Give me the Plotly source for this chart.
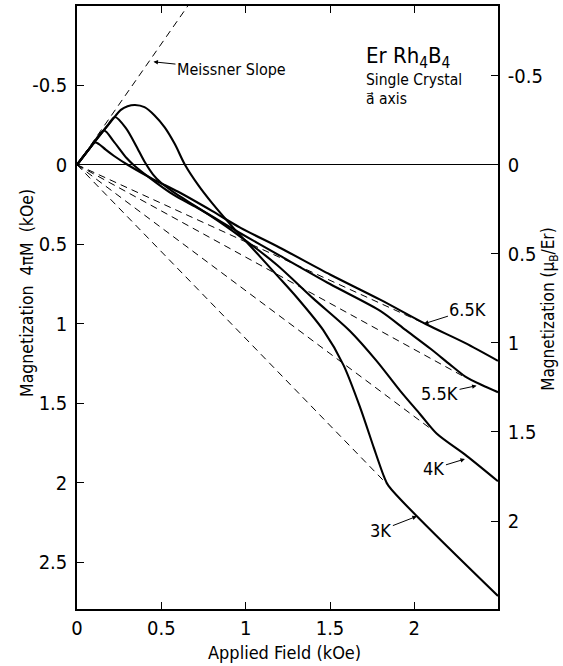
import plotly.graph_objects as go

# Applied field H (kOe) and magnetization 4piM (kOe) for each temperature
field_3K = [0, 0.10, 0.20, 0.26, 0.30, 0.344, 0.40, 0.46, 0.52, 0.58, 0.64, 0.72, 0.80, 0.93,
            1.07, 1.19, 1.30, 1.46, 1.58, 1.68, 1.76, 1.82, 1.846, 2.496]
mag_3K = [0, -0.138, -0.27, -0.345, -0.368, -0.376, -0.362, -0.31, -0.235, -0.13, 0.0, 0.13,
          0.24, 0.40, 0.56, 0.70, 0.83, 1.04, 1.26, 1.53, 1.78, 1.96, 2.017, 2.711]

field_4K = [0, 0.10, 0.18, 0.225, 0.29, 0.35, 0.40, 0.45, 0.50, 0.57, 0.65, 0.79, 0.966,
            1.186, 1.40, 1.618, 1.776, 1.915, 2.033, 2.132, 2.31, 2.496]
mag_4K = [0, -0.138, -0.245, -0.30, -0.23, -0.12, -0.02, 0.06, 0.115, 0.17, 0.225, 0.32,
          0.45, 0.63, 0.84, 1.045, 1.233, 1.42, 1.567, 1.69, 1.83, 1.99]

field_55K = [0, 0.08, 0.16, 0.215, 0.294, 0.334, 0.433, 0.571, 0.729, 0.966, 1.20, 1.50, 1.80,
             1.95, 2.10, 2.21, 2.30, 2.40, 2.496]
mag_55K = [0, -0.11, -0.215, -0.15, -0.042, 0.0, 0.084, 0.188, 0.28, 0.429, 0.57, 0.75, 0.92,
           1.04, 1.16, 1.255, 1.33, 1.385, 1.43]

field_65K = [0, 0.06, 0.107, 0.13, 0.17, 0.22, 0.30, 0.45, 0.60, 0.80, 0.97, 1.20, 1.50, 1.80,
             2.07, 2.30, 2.496]
mag_65K = [0, -0.083, -0.14, -0.13, -0.095, -0.055, 0.0, 0.09, 0.17, 0.29, 0.397, 0.52, 0.69,
           0.85, 1.003, 1.12, 1.233]

# Meissner slope and the straight normal-state lines through the origin
meissner_field = [0, 0.70]
meissner_mag = [0, -1.064]
normal_field = {"3K": [0, 1.846], "4K": [0, 2.11], "5.5K": [0, 2.29], "6.5K": [0, 2.07]}
normal_mag = {"3K": [0, 2.017], "4K": [0, 1.67], "5.5K": [0, 1.33], "6.5K": [0, 1.003]}

# Axis ticks
x_ticks = [0, 0.5, 1, 1.5, 2]
x_ticktext = ["0", "0.5", "1", "1.5", "2"]
y_ticks = [-0.5, 0, 0.5, 1, 1.5, 2, 2.5]
y_ticktext = ["-0.5", "0", "0.5", "1", "1.5", "2", "2.5"]
y2_ticks = [-0.5, 0, 0.5, 1, 1.5, 2]
y2_ticktext = ["-0.5", "0", "0.5", "1", "1.5", "2"]

FONT = "DejaVu Sans Condensed, Liberation Sans Narrow, Arial Narrow, sans-serif"
INK = "black"

fig = go.Figure()

dash_style = dict(color=INK, width=1, dash="7px,5px")
fig.add_trace(go.Scatter(x=meissner_field, y=meissner_mag, mode="lines", line=dash_style,
                         showlegend=False, hoverinfo="skip"))
for key in ["3K", "4K", "5.5K", "6.5K"]:
    fig.add_trace(go.Scatter(x=normal_field[key], y=normal_mag[key], mode="lines",
                             line=dash_style, showlegend=False, hoverinfo="skip"))

curves = [(field_3K, mag_3K, "3K"), (field_4K, mag_4K, "4K"),
          (field_55K, mag_55K, "5.5K"), (field_65K, mag_65K, "6.5K")]
for fx, my, name in curves:
    fig.add_trace(go.Scatter(x=fx, y=my, mode="lines", name=name, showlegend=False,
                             line=dict(color=INK, width=2.1, shape="spline", smoothing=0.8)))

# invisible trace to carry the right-hand axis (mu_B / Er)
fig.add_trace(go.Scatter(x=[0], y=[0], yaxis="y2", mode="markers",
                         marker=dict(opacity=0), showlegend=False, hoverinfo="skip"))

tick_font = dict(family=FONT, size=20, color=INK)

fig.update_layout(
    width=563, height=666,
    margin=dict(l=77, r=65, t=4, b=57),
    paper_bgcolor="white", plot_bgcolor="white",
    font=dict(family=FONT, color=INK),
    xaxis=dict(range=[0, 2.496], tickvals=x_ticks, ticktext=x_ticktext, ticks="inside",
               ticklen=7, tickwidth=1, tickcolor=INK, showline=True, linecolor=INK,
               linewidth=1.5, mirror="ticks", showgrid=False, zeroline=False,
               tickfont=tick_font),
    yaxis=dict(range=[2.793, -0.998], tickvals=y_ticks, ticktext=y_ticktext, ticks="inside",
               ticklen=7, tickwidth=1, tickcolor=INK, showline=True, linecolor=INK,
               linewidth=1.5, showgrid=False, zeroline=True, zerolinecolor=INK,
               zerolinewidth=1.2, tickfont=tick_font, ticklabelstandoff=4),
    yaxis2=dict(range=[2.494, -0.891], overlaying="y", side="right", tickvals=y2_ticks,
                ticktext=y2_ticktext, ticks="inside", ticklen=7, tickwidth=1,
                tickcolor=INK, showline=True, linecolor=INK, linewidth=1.5,
                showgrid=False, zeroline=False, tickfont=tick_font, ticklabelstandoff=4),
)

annotations = []


def label(text, x, y, size=18):
    annotations.append(dict(text=text, x=x, y=y, xref="x", yref="y", xanchor="left",
                            yanchor="middle", showarrow=False,
                            font=dict(family=FONT, size=size, color=INK)))


def tagged(text, x, y, ax, ay, size=18):
    # curve label with an arrow pointing at (x, y); text sits at pixel offset (ax, ay)
    annotations.append(dict(text=text, x=x, y=y, xref="x", yref="y", ax=ax, ay=ay,
                            showarrow=True, arrowhead=2, arrowsize=0.9, arrowwidth=1,
                            arrowcolor=INK, standoff=0,
                            font=dict(family=FONT, size=size, color=INK)))


tagged("Meissner Slope", 0.4535, -0.647, 78, 8, size=16)
tagged("6.5K", 2.057, 1.00, 44, -14)
tagged("5.5K", 2.369, 1.389, -37, 8)
tagged("4K", 2.30, 1.85, -31, 9.5)
tagged("3K", 2.015, 2.21, -36, 14)

label("Er Rh<sub>4</sub>B<sub>4</sub>", 1.70, -0.675, size=22)
label("Single Crystal", 1.70, -0.535, size=15.5)
# crystal direction: vector a (combining right arrow above)
label("a\u20d7 axis", 1.70, -0.412, size=15.5)

# axis titles
annotations.append(dict(text="Magnetization  4\u03c0M  (kOe)", xref="paper", yref="paper",
                        x=-0.119, y=0.524, textangle=-90, showarrow=False,
                        xanchor="center", yanchor="middle",
                        font=dict(family=FONT, size=17.5, color=INK)))
annotations.append(dict(text="Magnetization (\u03bc<sub>B</sub>/Er)", xref="paper",
                        yref="paper", x=1.1235, y=0.498, textangle=-90, showarrow=False,
                        xanchor="center", yanchor="middle",
                        font=dict(family=FONT, size=17, color=INK)))
annotations.append(dict(text="Applied Field (kOe)", xref="paper", yref="paper",
                        x=0.494, y=-0.0727, showarrow=False, xanchor="center",
                        yanchor="middle", font=dict(family=FONT, size=18, color=INK)))

fig.update_layout(annotations=annotations)
fig.write_html("out.html")
